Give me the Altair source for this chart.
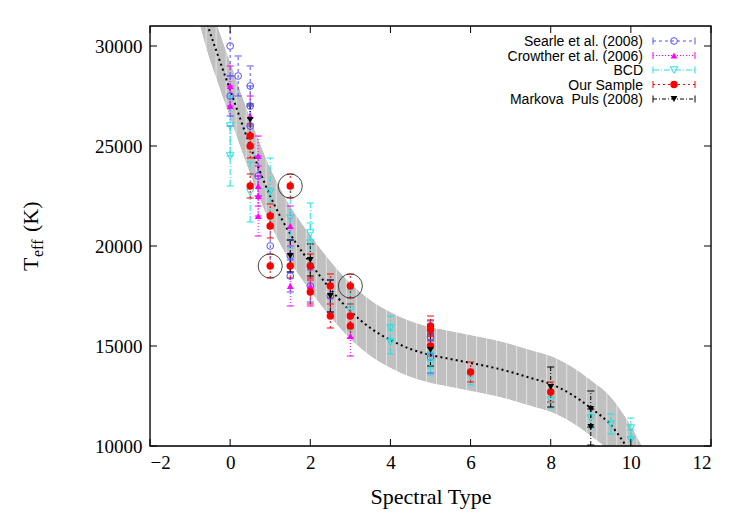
import altair as alt
import pandas as pd

# ---------------- data ----------------
# Searle et al. (2008)
searle_sp = [0, 0, 0.2, 0.5, 0.5, 0.5, 0.7, 1, 1.5, 1.5, 2, 2.5, 5, 5]
searle_t = [30000, 27500, 28500, 28000, 27000, 26000, 23500, 20000, 19500, 18500, 18000, 17500, 15450, 14450]
searle_err = [1500, 1000, 1000, 1000, 1000, 1000, 1000, 1000, 800, 800, 800, 800, 800, 800]

# Crowther et al. (2006)
crowther_sp = [0, 0, 0.5, 0.7, 0.7, 0.7, 0.7, 1.5, 1.5, 2, 3]
crowther_t = [28000, 27000, 26500, 24500, 23000, 22500, 21500, 21000, 18000, 18000, 15500]
crowther_err = [1000, 1000, 1000, 1000, 1000, 1000, 1000, 1000, 1000, 1000, 1000]

# BCD
bcd_sp = [0, 0, 0.5, 1, 1.5, 2, 2, 3, 4, 4, 5, 5, 6, 8, 9, 9.5, 10, 10]
bcd_t = [26000, 24500, 22700, 22700, 21400, 20650, 20150, 16800, 15900, 15200, 14500, 14150, 13450, 12300, 11400, 11100, 10900, 10300]
bcd_err = [1500, 1500, 1500, 1700, 1500, 1500, 1000, 1000, 600, 600, 600, 600, 400, 400, 500, 500, 500, 500]

# Our Sample
ours_sp = [0.5, 0.5, 0.5, 1, 1, 1, 1.5, 1.5, 2, 2, 2.5, 2.5, 3, 3, 3, 5, 5, 5, 6, 8]
ours_t = [25500, 25000, 23000, 21500, 21000, 19000, 23000, 19000, 19000, 17700, 18000, 16500, 18000, 16500, 16000, 16000, 15800, 15000, 13700, 12700]
ours_err = [600, 600, 600, 600, 600, 600, 600, 600, 600, 600, 600, 600, 600, 600, 600, 500, 500, 500, 500, 500]

# Our Sample stars marked with a large ring
ringed_sp = [1, 1.5, 3]
ringed_t = [19000, 23000, 18000]

# Markova & Puls (2008)
markova_sp = [0.5, 1.5, 2, 2.5, 5, 8, 9, 9]
markova_t = [26300, 19500, 19300, 17500, 14800, 12950, 11850, 10950]
markova_err = [800, 800, 800, 800, 800, 1000, 900, 900]

# Polynomial calibration curve and its spread
fit_sp = [-0.9, -0.6, -0.3, 0, 0.5, 1, 1.5, 2, 2.5, 3, 3.5, 4, 4.5, 5, 5.5,
          6, 6.5, 7, 7.5, 8, 8.5, 9, 9.5, 10, 10.3]
fit_t = [33600, 31300, 29500, 27800, 25000, 22500, 20600, 19150, 17850, 16750, 15900, 15300, 14850, 14550, 14350,
         14150, 13950, 13700, 13400, 13100, 12600, 11900, 11050, 9600, 8500]
fit_spread = 1400

x_tick_values = [-2, 0, 2, 4, 6, 8, 10, 12]
y_tick_values = [10000, 15000, 20000, 25000, 30000]

# ---------------- layout ----------------
W, H = 561, 420
SERIF = "Liberation Serif"
SANS = "Liberation Sans"

xs = alt.Scale(domain=[-2, 12], nice=False, zero=False)
ys = alt.Scale(domain=[10000, 31000], nice=False, zero=False)

x_axis = alt.Axis(values=x_tick_values, ticks=False, domain=False, grid=False,
                  labelFont=SERIF, labelFontSize=19, labelColor="black", labelPadding=7,
                  title="Spectral Type", titleFont=SERIF, titleFontSize=22,
                  titleFontWeight="normal", titleColor="black", titlePadding=14)
y_axis = alt.Axis(values=y_tick_values, format="d", ticks=False, domain=False, grid=False,
                  labelFont=SERIF, labelFontSize=19, labelColor="black", labelPadding=8,
                  title=None)


def X(field):
    return alt.X(field, type="quantitative", scale=xs, axis=x_axis)


def Y(field):
    return alt.Y(field, type="quantitative", scale=ys, axis=y_axis)


fit_df = pd.DataFrame({"sp": fit_sp, "teff": fit_t})
fit_df["lo"] = fit_df["teff"] - fit_spread
fit_df["hi"] = fit_df["teff"] + fit_spread
fit_base = alt.Chart(fit_df)

band = fit_base.mark_area(color="#c0c0c0", interpolate="monotone", clip=True).encode(
    x=X("sp"), y=Y("lo"), y2="hi")

# thin light hatching across the band
stripes = alt.Chart(alt.sequence(-0.85, 10.3, 0.25, as_="sx")).mark_rule(
    color="white", strokeWidth=1, opacity=0.55, clip=True).encode(
    x=X("sx"), y=alt.datum(10000), y2=alt.datum(31000))

mask_top = fit_base.mark_area(color="white", interpolate="monotone", clip=True).encode(
    x=X("sp"), y=Y("hi"), y2=alt.datum(31000))
mask_bottom = fit_base.mark_area(color="white", interpolate="monotone", clip=True).encode(
    x=X("sp"), y=Y("lo"), y2=alt.datum(10000))

fit_line = fit_base.mark_line(color="black", strokeDash=[2, 3.2], strokeWidth=2,
                              strokeCap="butt", interpolate="monotone", clip=True).encode(
    x=X("sp"), y=Y("teff"))

series = [
    dict(name="Searle et al. (2008)", sp=searle_sp, t=searle_t, e=searle_err,
         color="#5050ff", shape="circle", filled=False, size=45, dash=[3, 3]),
    dict(name="Crowther et al. (2006)", sp=crowther_sp, t=crowther_t, e=crowther_err,
         color="#ff00ff", shape="triangle-up", filled=True, size=45, dash=[1, 2]),
    dict(name="BCD", sp=bcd_sp, t=bcd_t, e=bcd_err,
         color="#22e0e0", shape="triangle-down", filled=False, size=55, dash=[6, 2, 1, 2]),
    dict(name="Our Sample", sp=ours_sp, t=ours_t, e=ours_err,
         color="#ff0000", shape="circle", filled=True, size=55, dash=[2, 3]),
    dict(name="Markova\u00a0 Puls (2008)", sp=markova_sp, t=markova_t, e=markova_err,
         color="#000000", shape="triangle-down", filled=True, size=45, dash=[4, 2, 1, 2]),
]

CAP = "M-1,0L1,0"
bar_layers, cap_layers, marker_layers = [], [], []
for s in series:
    df = pd.DataFrame({"sp": s["sp"], "teff": s["t"], "err": s["e"]})
    df["lo"] = df["teff"] - df["err"]
    df["hi"] = df["teff"] + df["err"]
    base = alt.Chart(df)
    bar_layers.append(base.mark_rule(color=s["color"], strokeWidth=1, strokeDash=s["dash"],
                                     clip=True).encode(x=X("sp"), y=Y("lo"), y2="hi"))
    for end in ("lo", "hi"):
        cap_layers.append(base.mark_point(shape=CAP, size=49, filled=False, stroke=s["color"],
                                          strokeWidth=1, opacity=1, clip=True).encode(
            x=X("sp"), y=Y(end)))
    if s["filled"]:
        mk = base.mark_point(shape=s["shape"], size=s["size"], filled=True, fill=s["color"],
                             strokeWidth=0, opacity=1, clip=True)
    else:
        mk = base.mark_point(shape=s["shape"], size=s["size"], filled=False, stroke=s["color"],
                             strokeWidth=1, opacity=1, clip=True)
    marker_layers.append(mk.encode(x=X("sp"), y=Y("teff")))

rings = alt.Chart(pd.DataFrame({"sp": ringed_sp, "teff": ringed_t})).mark_point(
    shape="circle", size=580, filled=False, stroke="#333333", strokeWidth=0.9, opacity=1
).encode(x=X("sp"), y=Y("teff"))

# inward ticks on all four sides plus the frame
xt = alt.Chart(pd.DataFrame({"v": x_tick_values}))
yt = alt.Chart(pd.DataFrame({"v": y_tick_values}))
TICK = 7
ticks = [
    xt.mark_rule(color="black", strokeWidth=1).encode(x=X("v"), y=alt.value(H), y2=alt.value(H - TICK)),
    xt.mark_rule(color="black", strokeWidth=1).encode(x=X("v"), y=alt.value(0), y2=alt.value(TICK)),
    yt.mark_rule(color="black", strokeWidth=1).encode(y=Y("v"), x=alt.value(0), x2=alt.value(TICK)),
    yt.mark_rule(color="black", strokeWidth=1).encode(y=Y("v"), x=alt.value(W), x2=alt.value(W - TICK)),
]
frame = alt.Chart(pd.DataFrame({"k": [0]})).mark_rect(
    fillOpacity=0, stroke="black", strokeWidth=1.3).encode(
    x=alt.value(0), x2=alt.value(W), y=alt.value(0), y2=alt.value(H))

# key in the upper right corner
LEG_TEXT_X = 493
LEG_X0, LEG_X1 = 503, 545
LEG_Y0, LEG_DY = 15, 14.5
legend_layers = []
for i, s in enumerate(series):
    ly = LEG_Y0 + i * LEG_DY
    one = alt.Chart(pd.DataFrame({"name": [s["name"]]}))
    legend_layers.append(one.mark_text(align="right", baseline="middle", font=SANS, fontSize=14,
                                       color="black").encode(
        x=alt.value(LEG_TEXT_X), y=alt.value(ly + 1), text="name:N"))
    legend_layers.append(one.mark_rule(color=s["color"], strokeWidth=1, strokeDash=s["dash"]).encode(
        x=alt.value(LEG_X0), x2=alt.value(LEG_X1), y=alt.value(ly)))
    for ex in (LEG_X0, LEG_X1):
        legend_layers.append(one.mark_rule(color=s["color"], strokeWidth=1).encode(
            x=alt.value(ex), y=alt.value(ly - 3.5), y2=alt.value(ly + 3.5)))
    if s["filled"]:
        lm = one.mark_point(shape=s["shape"], size=s["size"], filled=True, fill=s["color"],
                            strokeWidth=0, opacity=1)
    else:
        lm = one.mark_point(shape=s["shape"], size=s["size"], filled=False, stroke=s["color"],
                            strokeWidth=1, opacity=1)
    legend_layers.append(lm.encode(x=alt.value((LEG_X0 + LEG_X1) / 2), y=alt.value(ly)))

# vertical axis title: T_eff (K)
ytitle_parts = [("T", 22, -112, 245), ("eff", 16, -107, 231), ("(K)", 22, -112, 206)]
ytitle = []
for txt, fs, px, py in ytitle_parts:
    ytitle.append(alt.Chart(pd.DataFrame({"t": [txt]})).mark_text(
        angle=270, align="left", baseline="alphabetic", font=SERIF, fontSize=fs,
        color="black").encode(x=alt.value(px), y=alt.value(py), text="t:N"))

chart = alt.layer(
    band, stripes, mask_top, mask_bottom, fit_line,
    *bar_layers, *cap_layers, *marker_layers, rings,
    *ticks, frame, *legend_layers, *ytitle
).properties(
    width=W, height=H,
    padding={"left": 150, "top": 26, "right": 39, "bottom": 79},
    autosize="none",
).configure_view(stroke=None).configure(background="white")

chart.save("out.html", embed_options={"renderer": "svg", "actions": False})
